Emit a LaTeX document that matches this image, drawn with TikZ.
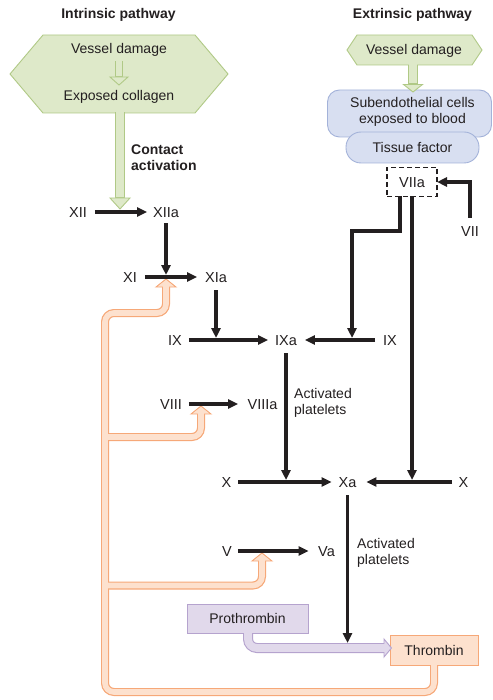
\documentclass[tikz,border=0pt]{standalone}
\usepackage{fontspec}
\setmainfont{Liberation Sans}
\usetikzlibrary{arrows.meta}
\definecolor{ink}{HTML}{231F20}
\definecolor{grfill}{RGB}{222,233,201}
\definecolor{grline}{RGB}{176,201,134}
\definecolor{blfill}{RGB}{216,223,241}
\definecolor{blline}{RGB}{163,178,217}
\definecolor{pufill}{RGB}{225,217,235}
\definecolor{puline}{RGB}{181,163,206}
\definecolor{orfill}{RGB}{253,225,206}
\definecolor{orline}{RGB}{246,168,120}
\begin{document}
\begin{tikzpicture}[x=1pt,y=-1pt,
  lab/.style={inner sep=0pt,outer sep=0pt,text height=10.4pt,text depth=0pt,font=\fontsize{14.5}{17}\selectfont,text=ink},
  txt/.style={inner sep=0pt,font=\fontsize{14}{16}\selectfont,text=ink,align=center},
  lnote/.style={inner sep=0pt,font=\fontsize{14}{16}\selectfont,text=ink,align=left,anchor=north west},
  ttl/.style={inner sep=0pt,font=\fontsize{14}{16}\selectfont\bfseries,text=ink},
  blk/.style={draw=ink,line width=3.6pt,-{Triangle[length=10pt,width=9pt]}},
  shape line/.style={line width=0.9pt},
  gborder/.style={draw=grline,line width=10pt},
  gfill/.style={draw=grfill,line width=7.8pt},
  ghead/.style={fill=grfill,draw=grline,line width=0.9pt,line join=miter},
  oborder/.style={draw=orline,line width=8pt,rounded corners=9pt},
  ofill/.style={draw=orfill,line width=5.6pt,rounded corners=9pt},
  ohead/.style={fill=orfill,draw=orline,line width=0.9pt},
  pborder/.style={draw=puline,line width=10pt,rounded corners=9pt},
  pfill/.style={draw=pufill,line width=7.8pt,rounded corners=9pt},
  phead/.style={fill=pufill,draw=puline,line width=0.9pt},
]
\useasboundingbox (0,0) rectangle (492,700);

% titles
\node[ttl] (tin) at (118.5,15) {Intrinsic pathway};
\node[ttl] (tex) at (412.5,15) {Extrinsic pathway};

% intrinsic hexagon
\filldraw[fill=grfill,draw=grline,shape line] (10,74) -- (43,35) -- (195,35) -- (228,74) -- (195,113) -- (43,113) -- cycle;
\node[txt] (vd1) at (119,50) {Vessel damage};
\node[txt] (ec) at (119,97) {Exposed collagen};

% extrinsic hexagon
\filldraw[fill=grfill,draw=grline,shape line] (347,50) -- (357,35) -- (472,35) -- (482,50) -- (472,65) -- (357,65) -- cycle;
\node[txt] (vd2) at (414,51) {Vessel damage};

% extrinsic boxes
\node[draw=blline,fill=blfill,shape line,rounded corners=12pt,minimum width=164pt,minimum height=47pt,inner sep=0pt] (sub) at (409.5,113.5) {};
\node[txt] (subt) at (412.5,111.5) {Subendothelial cells\\exposed to blood};
\node[draw=blline,fill=blfill,shape line,rounded corners=15pt,minimum width=133pt,minimum height=31pt,txt] (tf) at (412.5,147.5) {Tissue factor};

% VIIa dashed box
\node[draw=ink,line width=1.3pt,dash pattern=on 5pt off 3pt,minimum width=50pt,minimum height=29pt,lab,font=\fontsize{14.5}{17}\selectfont] (VIIa) at (412,182) {VIIa};

% prothrombin / thrombin
\node[draw=puline,fill=pufill,shape line,minimum width=121pt,minimum height=29pt,txt] (pro) at (247.5,618.5) {Prothrombin};
\node[draw=orline,fill=orfill,shape line,minimum width=88pt,minimum height=30pt,txt] (thr) at (434,650) {Thrombin};

% factor labels
\node[lab] (XII) at (78,212) {XII};
\node[lab] (XIIa) at (166,212) {XIIa};
\node[lab] (XI) at (130,277) {XI};
\node[lab] (XIa) at (216,277) {XIa};
\node[lab] (IXl) at (175,340) {IX};
\node[lab] (IXa) at (286,340) {IXa};
\node[lab] (IXr) at (390,340) {IX};
\node[lab] (VIII) at (171,404) {VIII};
\node[lab] (VIIIa) at (262.5,404) {VIIIa};
\node[lab] (Xl) at (226.5,482) {X};
\node[lab] (Xa) at (347.5,482) {Xa};
\node[lab] (Xr) at (463.5,482) {X};
\node[lab] (V) at (227,551) {V};
\node[lab] (Va) at (326.5,551) {Va};
\node[lab] (VII) at (470,231.5) {VII};

\node[lnote,font=\fontsize{14}{16}\selectfont\bfseries] (ca) at (131,144.5) {Contact\\activation};
\node[lnote] (ap1) at (294,388.5) {Activated\\platelets};
\node[lnote] (ap2) at (357,538.5) {Activated\\platelets};

% ---------- green hollow arrows ----------
% (y axis points down: a positive yshift moves a point UP)
\coordinate (g1a) at (119,61);
\coordinate (g1t) at (119,85);
\draw[draw=grline,line width=8.5pt] (g1a) -- ([yshift=7pt]g1t);
\filldraw[ghead] (g1t) -- ++(-9,-8) -- ++(18,0) -- cycle;
\draw[draw=grfill,line width=6.7pt] (g1a) -- ([yshift=9pt]g1t);

\coordinate (g2a) at (120,112.5);
\coordinate (g2t) at (120,209);
\draw[gborder] (g2a) -- ([yshift=10pt]g2t);
\filldraw[ghead] (g2t) -- ++(-10,-11) -- ++(20,0) -- cycle;
\draw[gfill] ([yshift=1pt]g2a) -- ([yshift=12pt]g2t);

\coordinate (g3a) at (413,65);
\coordinate (g3t) at (413,92);
\draw[gborder] (g3a) -- ([yshift=6pt]g3t);
\filldraw[ghead] (g3t) -- ++(-9.5,-7.5) -- ++(19,0) -- cycle;
\draw[gfill] ([yshift=1pt]g3a) -- ([yshift=8.5pt]g3t);

% ---------- orange hollow feedback arrows ----------
\coordinate (o0) at (434,665);
\coordinate (o1) at (434,692);
\coordinate (o2) at (105,692);
\coordinate (o3) at (105,313);
\coordinate (o4) at (166,313);
\coordinate (oXI) at (166,279);
\coordinate (b8) at (105,437);
\coordinate (o8) at (201,437);
\coordinate (oVIII) at (201,406);
\coordinate (b5) at (105,585.5);
\coordinate (o5) at (262,585.5);
\coordinate (oV) at (262,553);

\draw[oborder] (o0) -- (o1) -- (o2) -- (o3) -- (o4) -- ([yshift=-7.5pt]oXI);
\draw[oborder] (b8) -- (o8) -- ([yshift=-7.5pt]oVIII);
\draw[oborder] (b5) -- (o5) -- ([yshift=-7.5pt]oV);
\foreach \t in {oXI,oVIII,oV}{
  \filldraw[ohead] (\t) -- ++(-10,8) -- ++(20,0) -- cycle;
}
\draw[ofill] ([yshift=1pt]o0) -- (o1) -- (o2) -- (o3) -- (o4) -- ([yshift=-6.3pt]oXI);
\draw[ofill] (b8) -- (o8) -- ([yshift=-6.3pt]oVIII);
\draw[ofill] (b5) -- (o5) -- ([yshift=-6.3pt]oV);

% ---------- purple hollow arrow ----------
\coordinate (p0) at (248,633);
\coordinate (p1) at (248,648);
\coordinate (pt) at (391.5,648);
\draw[pborder] (p0) -- (p1) -- ([xshift=-6.5pt]pt);
\filldraw[phead] (pt) -- ++(-7.5,-9) -- ++(0,18) -- cycle;
\draw[pfill] ([yshift=1pt]p0) -- (p1) -- ([xshift=-6.3pt]pt);

% ---------- black connectors ----------
\draw[blk,shorten <=8pt,shorten >=6pt] (XII) -- (XIIa);
\draw[blk,shorten <=6pt,shorten >=2pt] (XIIa.south) -- (XIIa.south |- XI);
\draw[blk,shorten <=8pt,shorten >=8pt] (XI) -- (XIa);
\draw[blk,shorten <=8pt,shorten >=2pt] (XIa.south) -- (XIa.south |- IXl);
\draw[blk,shorten <=7pt,shorten >=7pt] (IXl) -- (IXa);
\draw[blk,shorten <=8pt,shorten >=8pt] (IXr) -- (IXa);
\coordinate (k1) at (352,231);
\draw[blk,shorten >=2pt] ([xshift=-12pt]VIIa.south) |- (k1) -- (k1 |- IXr);
\draw[blk,shorten >=2pt] (VIIa.south) -- (VIIa.south |- Xr);
\draw[blk,shorten <=8.5pt] (VII.north) |- (VIIa.east);
\draw[blk,shorten <=8pt,shorten >=2pt] (IXa.south) -- (IXa.south |- Xl);
\draw[blk,shorten <=7pt,shorten >=9.5pt] (VIII) -- (VIIIa);
\draw[blk,shorten <=7pt,shorten >=7pt] (Xl) -- (Xa);
\draw[blk,shorten <=6.5pt,shorten >=10pt] (Xr) -- (Xa);
\draw[blk,shorten <=8pt,shorten >=5pt] (Xa.south) -- (Xa.south |- p1);
\draw[blk,shorten <=6pt,shorten >=9.5pt] (V) -- (Va);
\end{tikzpicture}
\end{document}
